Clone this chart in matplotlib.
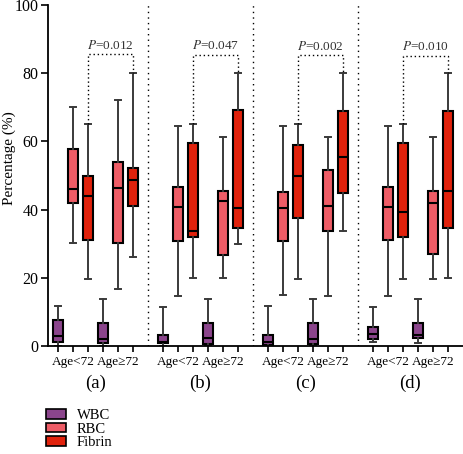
import matplotlib
matplotlib.use("Agg")
import matplotlib.pyplot as plt
from matplotlib.patches import Patch
from matplotlib.transforms import blended_transform_factory

plt.rcParams["font.family"] = ["Liberation Serif", "DejaVu Serif"]
plt.rcParams["mathtext.fontset"] = "stix"

panels = ["(a)", "(b)", "(c)", "(d)"]
groups = ["Age<72", "Age\u226572"]
series = ["WBC", "RBC", "Fibrin"]
colors = {"WBC": "#8B458C", "RBC": "#EE5C66", "Fibrin": "#E1220C"}
p_values = ["0.012", "0.047", "0.002", "0.010"]

# per panel, per box: (whislo, q1, med, q3, whishi), order WBC<, RBC<, Fib<, WBC>=, RBC>=, Fib>=
box_a = [(0, 1.3, 2.8, 7.6, 11.7), (30.1, 42.0, 46.0, 57.8, 70.0), (19.6, 31.2, 44.1, 49.9, 65.0),
         (0, 0.9, 2.0, 6.6, 13.7), (16.8, 30.2, 46.4, 53.9, 72.0), (26.0, 41.0, 48.8, 52.3, 80.0)]
box_b = [(0, 0.9, 1.2, 3.2, 11.5), (14.8, 30.9, 40.9, 46.7, 64.5), (19.8, 32.1, 33.8, 59.4, 65.0),
         (0, 0.6, 2.2, 6.8, 13.7), (19.9, 26.8, 42.4, 45.5, 61.2), (29.9, 34.7, 40.4, 69.2, 80.0)]
box_c = [(0, 0.3, 1.3, 3.2, 11.7), (14.9, 30.9, 40.5, 45.2, 64.5), (19.7, 37.6, 49.9, 59.0, 65.0),
         (0, 0.5, 2.1, 6.8, 13.7), (14.7, 33.8, 41.0, 51.6, 61.2), (33.8, 45.0, 55.5, 68.9, 80.0)]
box_d = [(1.1, 2.0, 3.4, 5.5, 11.5), (14.8, 31.1, 40.9, 46.5, 64.5), (19.7, 31.9, 39.4, 59.4, 65.1),
         (1.0, 2.2, 3.2, 6.8, 13.7), (19.7, 27.0, 41.8, 45.5, 61.4), (19.9, 34.7, 45.5, 69.0, 80.0)]
all_boxes = [box_a, box_b, box_c, box_d]
bracket_y = [85.5, 85.3, 85.2, 85.0]

fig = plt.figure(figsize=(4.63, 4.54), dpi=100)
ax = fig.add_axes([48 / 463, 1 - 346 / 454, 1 - 48 / 463, 341 / 454])

box_order = [(g, s) for g in range(2) for s in series]
ticks, ticklabels = [], []
for p, boxes in enumerate(all_boxes):
    base = 1 + 7 * p
    for i, ((g, s), (wl, q1, med, q3, wh)) in enumerate(zip(box_order, boxes)):
        pos = base + i
        stats = [dict(whislo=wl, q1=q1, med=med, q3=q3, whishi=wh, fliers=[])]
        ax.bxp(stats, positions=[pos], widths=0.72, patch_artist=True,
               boxprops=dict(facecolor=colors[s], edgecolor="black", linewidth=1.5),
               medianprops=dict(color="black", linewidth=1.5),
               whiskerprops=dict(color="#3a3a3a", linewidth=1.4),
               capprops=dict(color="#3a3a3a", linewidth=1.4),
               capwidths=0.4, manage_ticks=False)
        ticks.append(pos)
        ticklabels.append(groups[g] if s == "RBC" else "")
    # significance bracket between the two fibrin boxes
    x1, x2 = base + 2, base + 5
    y = bracket_y[p]
    ax.plot([x1, x1, x2, x2], [boxes[2][4], y, y, boxes[5][4]], color="black",
            linestyle=(0, (1, 2)), linewidth=1.0)
    ax.text((x1 + x2) / 2, y + 0.8, f"$P$=" + p_values[p], ha="center", va="bottom",
            fontsize=9.5, color="#333333")
    if p < 3:
        ax.axvline(base + 6, color="black", linestyle=(0, (1, 3)), linewidth=1.0)

trans = blended_transform_factory(ax.transData, ax.transAxes)
for p, lab in enumerate(panels):
    ax.text(1 + 7 * p + 2.5, -0.11, lab, transform=trans, ha="center", va="center", fontsize=13.5)

ax.set_xlim(1 - 2 / 3, 28)
ax.set_ylim(0, 100)
ax.set_xticks(ticks)
ax.set_xticklabels(ticklabels, fontsize=9.5)
ax.set_yticks([0, 20, 40, 60, 80, 100])
ax.tick_params(axis="y", labelsize=11.5, length=5, width=1.2, pad=2)
ax.tick_params(axis="x", length=4, width=1.2, pad=3)
ax.set_ylabel("Percentage (%)", fontsize=11)
ax.yaxis.set_label_coords(-0.078, 0.55)
for side in ["top", "right"]:
    ax.spines[side].set_visible(False)
for side in ["left", "bottom"]:
    ax.spines[side].set_linewidth(1.3)

handles = [Patch(facecolor=colors[s], edgecolor="black", linewidth=1.2, label=s) for s in series]
fig.legend(handles=handles, loc="upper left", bbox_to_anchor=(46 / 463, 1 - 409 / 454),
           frameon=False, fontsize=10.5, handlelength=1.4, handleheight=0.65,
           labelspacing=0.05, handletextpad=0.7, borderpad=0, borderaxespad=0)

fig.savefig("out.png", dpi=100)
